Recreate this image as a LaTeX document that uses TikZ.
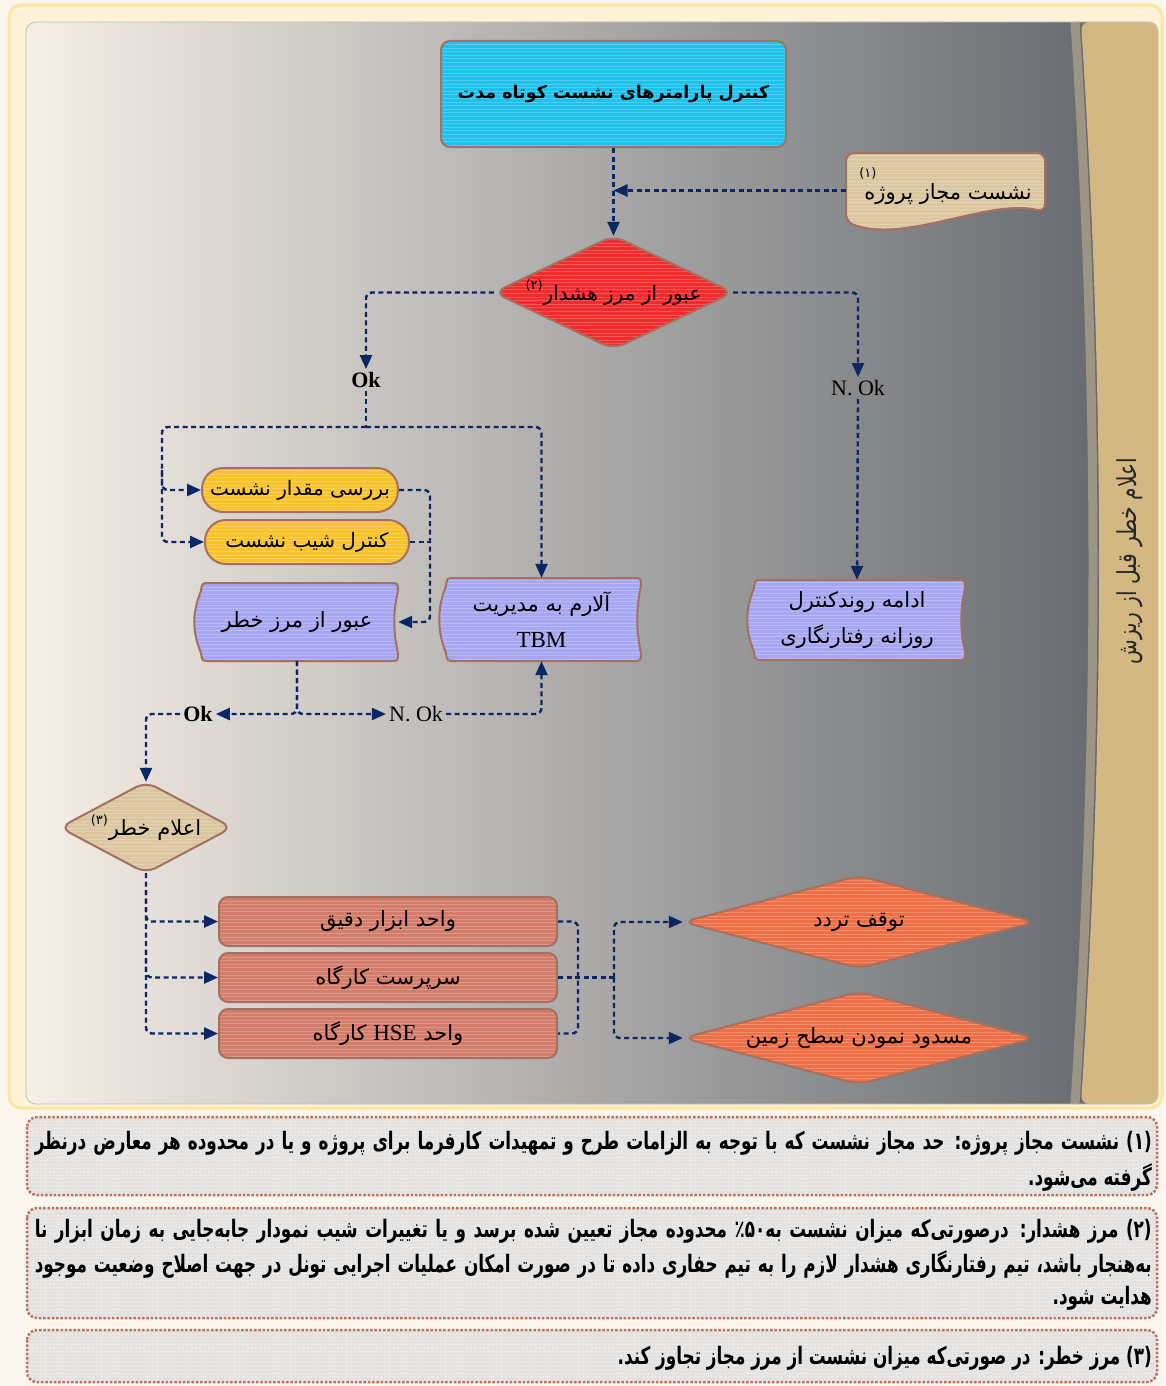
\documentclass[tikz,border=0pt]{standalone}
\usepackage{fontspec}
\setmainfont{Liberation Serif}
\newfontfamily\fa[Script=Arabic]{DejaVu Sans}
\newfontfamily\fan[Script=Arabic,FakeStretch=0.78]{DejaVu Sans}
\newfontfamily\fann[Script=Arabic,FakeStretch=0.70]{DejaVu Sans}
\TeXXeTstate=1
\usetikzlibrary{arrows.meta,calc}
\pgfdeclarelayer{bg}
\pgfdeclarelayer{shp}
\pgfsetlayers{bg,shp,main}
\newcommand\myrtl[1]{\beginR #1\endR}
\newcommand\wavybox[4]{%
 \filldraw[shapeb,fill=bluc] ({#1+14},#2) -- ({#3-8},#2) .. controls (#3,#2) .. (#3,{#2+8}) .. controls ({#3-5},{#2+30}) and ({#3-5},{#4-30}) .. (#3,{#4-8}) .. controls (#3,#4) .. ({#3-8},#4) -- ({#1+14},#4) .. controls ({#1+6},#4) .. ({#1+5},{#4-8}) .. controls ({#1-4},{#4-30}) and ({#1-4},{#2+30}) .. ({#1+5},{#2+8}) .. controls ({#1+6},#2) .. cycle;}
\definecolor{navyc}{HTML}{0B2565}
\definecolor{brd}{HTML}{A5705F}
\definecolor{cyanc}{HTML}{1EC2EC}
\definecolor{tanc}{HTML}{DBC6A0}
\definecolor{redc}{HTML}{F22A2C}
\definecolor{yelc}{HTML}{F7C22C}
\definecolor{bluc}{HTML}{A6A6F2}
\definecolor{salc}{HTML}{D37C69}
\definecolor{orac}{HTML}{EE6F45}
\definecolor{side}{HTML}{D3B883}
\definecolor{bandc}{HTML}{9C9583}
\definecolor{pagec}{HTML}{FAF6EE}
\definecolor{framec}{HTML}{FCE6A6}
\definecolor{framefill}{HTML}{FEF3D6}
\definecolor{gl}{HTML}{F6EFE7}
\definecolor{gm}{HTML}{C4C2BC}
\definecolor{gr}{HTML}{676B70}
\definecolor{fnfill}{HTML}{E5E3E1}
\definecolor{fnbrd}{HTML}{B8735F}
\begin{document}
\begin{tikzpicture}[x=1pt,y=-1pt,
  stripes/.style={path picture={\foreach \k in {0,...,32}{\draw[white,opacity=#1,line width=0.8pt] ([yshift=\k*3.6pt+1.8pt]path picture bounding box.south west) -- ([yshift=\k*3.6pt+1.8pt]path picture bounding box.south east);}}},
  stripes/.default=0.22,
  shapeb/.style={draw=brd,line width=2pt,stripes},
  lbl/.style={inner sep=0pt,align=center,font=\fa\fontsize{21}{36}\selectfont,text=black},
  latin/.style={inner sep=3pt,font=\rmfamily\fontsize{22}{26}\selectfont,text=black},
  conn/.style={draw=navyc,line width=2.4pt,dash pattern=on 5pt off 3.5pt,rounded corners=6pt,-{Triangle[length=14pt,width=12pt]}},
  plain/.style={draw=navyc,line width=2.4pt,dash pattern=on 5pt off 3.5pt,rounded corners=6pt},
  fnbox/.style={fill=fnfill,draw=fnbrd,line width=2.5pt,dash pattern=on 2.5pt off 1.8pt,rounded corners=10pt,stripes=0.35},
  fntext/.style={inner sep=0pt,anchor=east,font=\fann\bfseries\fontsize{24}{34}\selectfont,text=black}
]
\useasboundingbox (0,0) rectangle (1165,1386);
\begin{pgfonlayer}{bg}
\fill[pagec] (0,0) rectangle (1165,1386);
\filldraw[fill=framefill,draw=framec,line width=3pt,rounded corners=12pt] (9,5) rectangle (1162,1108);
\shade[left color=gl,middle color=gm,right color=gr,rounded corners=10pt] (26,22) rectangle (1100,1104);
\draw[bandc,line width=9pt] (1075,22) .. controls (1099,400) and (1099,726) .. (1075,1104);
\fill[side,rounded corners=8pt] (1081,22) .. controls (1105,400) and (1105,726) .. (1081,1104) -- (1158,1104) -- (1158,22) -- cycle;
\draw[black!25,line width=0.8pt,rounded corners=10pt] (26,22) rectangle (1158,1104);
\path[fnbox] (27,1117) rectangle (1157,1195);
\path[fnbox] (27,1208) rectangle (1157,1318);
\path[fnbox] (27,1330) rectangle (1157,1382);
\end{pgfonlayer}

% ---------- nodes ----------
\node[lbl,draw=brd,line width=2pt,fill=cyanc,rounded corners=9pt,stripes,minimum width=345pt,minimum height=106pt,font=\fa\bfseries\fontsize{17.5}{26}\selectfont] (top) at (613.5,94) {\myrtl{کنترل پارامترهای نشست کوتاه مدت}};
\node[lbl,minimum width=199pt,minimum height=75pt] (flag) at (945.5,190.5) {\raisebox{14pt}{\myrtl{نشست مجاز پروژه\hspace{-12pt}\raisebox{22pt}{\fontsize{13}{13}\selectfont(۱)}}}};
\node[lbl,minimum width=239pt,minimum height=113pt,font=\fa\fontsize{20}{26}\selectfont] (d1) at (613.5,292.5) {\myrtl{عبور از مرز هشدار\hspace{1pt}\raisebox{11pt}{\fontsize{13}{13}\selectfont(۲)}}};
\node[latin,font=\rmfamily\bfseries\fontsize{22}{26}\selectfont] (ok1) at (366,380) {Ok};
\node[latin] (nok1) at (858,388) {N. Ok};
\node[lbl,draw=brd,line width=2pt,fill=yelc,rounded corners=21pt,stripes,minimum width=196pt,minimum height=44pt,font=\fa\fontsize{20}{26}\selectfont] (y1) at (300,490) {\myrtl{بررسی مقدار نشست}};
\node[lbl,draw=brd,line width=2pt,fill=yelc,rounded corners=21pt,stripes,minimum width=204pt,minimum height=44pt,font=\fa\fontsize{20}{26}\selectfont] (y2) at (307,542) {\myrtl{کنترل شیب نشست}};
\node[lbl,minimum width=202pt,minimum height=78pt] (risk) at (297,622) {\myrtl{عبور از مرز خطر}};
\node[lbl,minimum width=200pt,minimum height=83pt] (tbm) at (541.5,619.5) {\myrtl{آلارم به مدیریت}\\{\rmfamily\fontsize{23}{26}\selectfont TBM}};
\node[lbl,minimum width=216pt,minimum height=80pt] (cont) at (857,620) {\myrtl{ادامه روندکنترل}\\\myrtl{روزانه رفتارنگاری}};
\node[latin,font=\rmfamily\bfseries\fontsize{22}{26}\selectfont] (ok2) at (198,714) {Ok};
\node[latin] (nok2) at (416,714) {N. Ok};
\node[lbl,minimum width=172pt,minimum height=91pt] (d2) at (146,827.5) {\myrtl{اعلام خطر\hspace{1pt}\raisebox{11pt}{\fontsize{13}{13}\selectfont(۳)}}};
\node[lbl,draw=brd,line width=2pt,fill=salc,rounded corners=9pt,stripes,minimum width=338pt,minimum height=49pt] (r1) at (388,921.5) {\myrtl{واحد ابزار دقیق}};
\node[lbl,draw=brd,line width=2pt,fill=salc,rounded corners=9pt,stripes,minimum width=338pt,minimum height=49pt] (r2) at (388,977.5) {\myrtl{سرپرست کارگاه}};
\node[lbl,draw=brd,line width=2pt,fill=salc,rounded corners=9pt,stripes,minimum width=338pt,minimum height=49pt] (r3) at (388,1033.5) {\myrtl{واحد \mbox{\rmfamily\fontsize{23}{26}\selectfont HSE} کارگاه}};
\node[lbl,minimum width=352pt,minimum height=92pt] (h1) at (859,922) {\myrtl{توقف تردد}};
\node[lbl,minimum width=352pt,minimum height=92pt] (h2) at (859,1038) {\myrtl{مسدود نمودن سطح زمین}};
\node[lbl,rotate=90,font=\fan\fontsize{26}{30}\selectfont,text=black!85] (side) at (1130,561) {\myrtl{اعلام خطر قبل از ریزش}};

% ---------- custom shapes ----------
\begin{pgfonlayer}{shp}
\filldraw[shapeb,fill=tanc,rounded corners=8pt] (846,222) -- (846,153) -- (1045,153) -- (1045,212) .. controls (990,198) and (905,244) .. cycle;
\filldraw[shapeb,fill=redc,rounded corners=12pt] (d1.west) -- (d1.north) -- (d1.east) -- (d1.south) -- cycle;
\wavybox{196}{583}{398}{661}
\wavybox{441}{578}{641}{661}
\wavybox{749}{580}{965}{660}
\filldraw[shapeb,fill=tanc,rounded corners=11pt] (d2.west) -- (d2.north) -- (d2.east) -- (d2.south) -- cycle;
\filldraw[shapeb,fill=orac,rounded corners=12pt] (h1.west) -- (h1.north) -- (h1.east) -- (h1.south) -- cycle;
\filldraw[shapeb,fill=orac,rounded corners=12pt] (h2.west) -- (h2.north) -- (h2.east) -- (h2.south) -- cycle;
\end{pgfonlayer}

% ---------- footnote text ----------
\node[fntext] (f1a) at (1152,1143) {\makebox[1117pt][s]{\myrtl{\mbox{(۱)} نشست مجاز پروژه: حد مجاز نشست که با توجه به الزامات طرح و تمهیدات کارفرما برای پروژه و یا در محدوده هر معارض درنظر}}};
\node[fntext] (f1b) at (1152,1177) {\myrtl{گرفته می‌شود.}};
\node[fntext] (f2a) at (1152,1231) {\makebox[1117pt][s]{\myrtl{\mbox{(۲)} مرز هشدار: درصورتی‌که میزان نشست به‌۵۰٪ محدوده مجاز تعیین شده برسد و یا تغییرات شیب نمودار جابه‌جایی به زمان ابزار نا}}};
\node[fntext] (f2b) at (1152,1265) {\makebox[1117pt][s]{\myrtl{به‌هنجار باشد، تیم رفتارنگاری هشدار لازم را به تیم حفاری داده تا در صورت امکان عملیات اجرایی تونل در جهت اصلاح وضعیت موجود}}};
\node[fntext] (f2c) at (1152,1298) {\myrtl{هدایت شود.}};
\node[fntext] (f3) at (1152,1358) {\myrtl{\mbox{(۳)} مرز خطر: در صورتی‌که میزان نشست از مرز مجاز تجاوز کند.}};

% ---------- connectors ----------
\coordinate (j1) at (366,427);
\coordinate (lb) at (162,427);
\coordinate (rb) at (430,490);
\coordinate (j2) at (614,977.5);
\draw[conn] (top.south) -- (d1.north);
\draw[conn] (flag.west) -- (flag.west -| top.south);
\draw[conn] (d1.west) -| (ok1.north);
\draw[conn] (d1.east) -| (nok1.north);
\draw[plain] (ok1.south) -- (j1);
\draw[conn] (j1) -| (tbm.north);
\draw[conn] (j1) -- (lb) |- (y2.west);
\draw[conn] (162,470) |- (y1.west);
\draw[conn] (y1.east) -- (rb) |- (risk.east);
\draw[plain] (y2.east) -- (430,542);
\draw[conn] (nok1.south) -- (cont.north);
\draw[conn] (risk.south) |- (ok2.east);
\draw[conn] (risk.south) |- (nok2.west);
\draw[conn] (nok2.east) -| (tbm.south);
\draw[conn] (ok2.west) -| (d2.north);
\draw[conn] (d2.south) |- (r3.west);
\draw[conn] (146,890) |- (r1.west);
\draw[conn] (146,950) |- (r2.west);
\draw[plain] (r1.east) -- (578,921.5) -- (578,1033.5) -- (r3.east);
\draw[plain] (r2.east) -- (j2);
\draw[conn] (j2) |- (h1.west);
\draw[conn] (j2) |- (h2.west);
\end{tikzpicture}
\end{document}
